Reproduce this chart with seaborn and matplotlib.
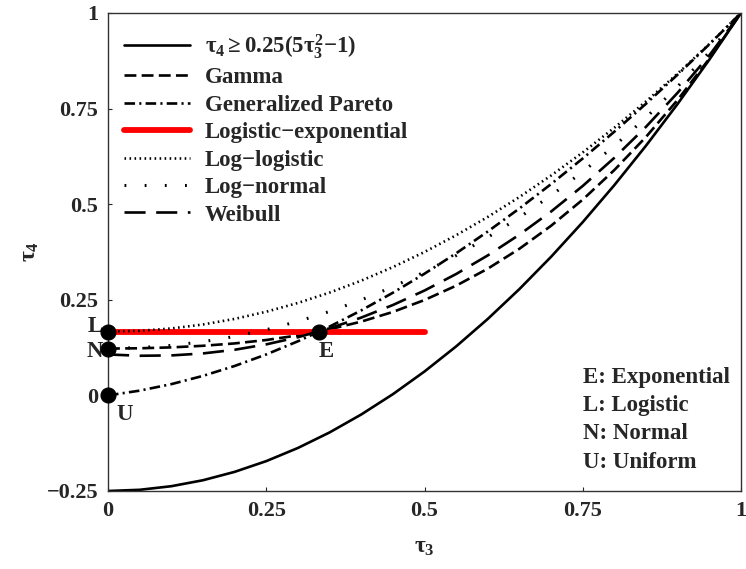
import numpy as np
import pandas as pd
import seaborn as sns
import matplotlib
matplotlib.use("Agg")
import matplotlib.pyplot as plt

# tau3 grid and tau4 values
tau3 = [0.0, 0.05, 0.1, 0.15, 0.2, 0.25, 0.3, 0.35, 0.4, 0.45, 0.5,
        0.55, 0.6, 0.65, 0.7, 0.75, 0.8, 0.85, 0.9, 0.95, 1.0]
bound = [-0.25, -0.2469, -0.2375, -0.2219, -0.2, -0.1719, -0.1375, -0.0969, -0.05, 0.0031, 0.0625,
         0.1281, 0.2, 0.2781, 0.3625, 0.4531, 0.55, 0.6531, 0.7625, 0.8781, 1.0]
gamma = [0.1224, 0.1232, 0.1255, 0.1297, 0.1359, 0.1448, 0.1569, 0.1727, 0.1929, 0.2182, 0.2494,
         0.2869, 0.3314, 0.3835, 0.4436, 0.5120, 0.5894, 0.6761, 0.7729, 0.8806, 1.0]
gen_pareto = [0.0, 0.0124, 0.0294, 0.0510, 0.0769, 0.1071, 0.1415, 0.1799, 0.2222, 0.2684, 0.3182,
              0.3716, 0.4286, 0.4889, 0.5526, 0.6196, 0.6897, 0.7628, 0.8390, 0.9181, 1.0]
log_logistic = [0.1667, 0.1688, 0.175, 0.1854, 0.2, 0.2188, 0.2417, 0.2688, 0.3, 0.3354, 0.375,
                0.4188, 0.4667, 0.5188, 0.575, 0.6354, 0.7, 0.7688, 0.8417, 0.9188, 1.0]
log_normal = [0.1228, 0.1248, 0.1306, 0.1403, 0.1540, 0.1717, 0.1935, 0.2194, 0.2495, 0.2839, 0.3226,
              0.3657, 0.4134, 0.4656, 0.5227, 0.5848, 0.6526, 0.7265, 0.8077, 0.8976, 1.0]
weibull = [0.1070, 0.1036, 0.1045, 0.1097, 0.1193, 0.1334, 0.1521, 0.1754, 0.2034, 0.2363, 0.2742,
           0.3174, 0.3661, 0.4204, 0.4808, 0.5477, 0.6214, 0.7025, 0.7916, 0.8893, 1.0]

logexp_x = [0.0, 0.5]
logexp_y = [1 / 6, 1 / 6]

point_names = ["L", "N", "U", "E"]
point_x = [0.0, 0.0, 0.0, 1 / 3]
point_y = [1 / 6, 0.1226, 0.0, 1 / 6]

xticks = [0, 0.25, 0.5, 0.75, 1]
xtick_labels = ["0", "0.25", "0.5", "0.75", "1"]
yticks = [-0.25, 0, 0.25, 0.5, 0.75, 1]
ytick_labels = ["\u22120.25", "0", "0.25", "0.5", "0.75", "1"]

key_lines = ["E: Exponential", "L: Logistic", "N: Normal", "U: Uniform"]

sns.set_style("ticks")
plt.rcParams["font.family"] = ["Liberation Serif", "DejaVu Serif"]
plt.rcParams["font.weight"] = "bold"
plt.rcParams["mathtext.fontset"] = "custom"
plt.rcParams["mathtext.rm"] = "Liberation Serif:bold"
plt.rcParams["mathtext.it"] = "Liberation Serif:bold"
plt.rcParams["mathtext.bf"] = "Liberation Serif:bold"

fig = plt.figure(figsize=(7.46, 5.69), dpi=100)
ax = fig.add_axes([0.1448, 0.1371, 0.8485, 0.8401])

lw = 1.9
sns.lineplot(x=tau3, y=bound, ax=ax, color="black", lw=lw, sort=False,
             estimator=None, label=r"$\tau_4 \geq 0.25(5\tau_3^2{-}1)$")
sns.lineplot(x=tau3, y=gamma, ax=ax, color="black", lw=lw, sort=False, estimator=None,
             linestyle=(0, (4.5, 2)), label="Gamma")
sns.lineplot(x=tau3, y=gen_pareto, ax=ax, color="black", lw=lw, sort=False, estimator=None,
             linestyle=(0, (4, 1.6, 0.8, 1.6)), label="Generalized Pareto")
sns.lineplot(x=logexp_x, y=logexp_y, ax=ax, color="red", lw=4.2, sort=False, estimator=None,
             label="Logistic\u2212exponential")
sns.lineplot(x=tau3, y=log_logistic, ax=ax, color="black", lw=lw, sort=False, estimator=None,
             linestyle=(0, (0.6, 1.3)), label="Log\u2212logistic")
sns.lineplot(x=tau3, y=log_normal, ax=ax, color="black", lw=2.2, sort=False, estimator=None,
             linestyle=(0, (0.6, 6)), label="Log\u2212normal")
sns.lineplot(x=tau3, y=weibull, ax=ax, color="black", lw=lw, sort=False, estimator=None,
             linestyle=(0, (8, 4)), label="Weibull")

sns.scatterplot(x=point_x, y=point_y, ax=ax, color="black", s=115, zorder=10,
                clip_on=False, edgecolor="black", legend=False)

fs = 16.5
ax.text(-0.008, 0.18, "L", ha="right", va="center", fontsize=fs, fontweight="bold")
ax.text(-0.008, 0.114, "N", ha="right", va="center", fontsize=fs, fontweight="bold")
ax.text(0.027, -0.05, "U", ha="center", va="center", fontsize=fs, fontweight="bold")
ax.text(0.345, 0.115, "E", ha="center", va="center", fontsize=fs, fontweight="bold")

key_y = [0.046, -0.027, -0.1, -0.175]
for txt, yy in zip(key_lines, key_y):
    ax.text(0.75, yy, txt, ha="left", va="center", fontsize=fs, fontweight="bold")

ax.set_xlim(0, 1)
ax.set_ylim(-0.25, 1)
ax.set_xticks(xticks)
ax.set_xticklabels(xtick_labels, fontsize=16, fontweight="bold")
ax.set_yticks(yticks)
ax.set_yticklabels(ytick_labels, fontsize=16, fontweight="bold")
ax.tick_params(direction="in", length=3, width=0.8, pad=7)
ax.set_xlabel(r"$\tau_3$", fontsize=17, labelpad=12)
ax.set_ylabel(r"$\tau_4$", fontsize=17, labelpad=4)
for sp in ax.spines.values():
    sp.set_visible(True)
    sp.set_linewidth(1.0)
    sp.set_color("#333333")

ax.legend(loc="upper left", bbox_to_anchor=(0.0, 0.993), frameon=False, handlelength=2.9,
          handletextpad=0.65, labelspacing=0.28, borderaxespad=0.28,
          prop={"family": "Liberation Serif", "weight": "bold", "size": fs})

fig.savefig("out.png", dpi=100)
